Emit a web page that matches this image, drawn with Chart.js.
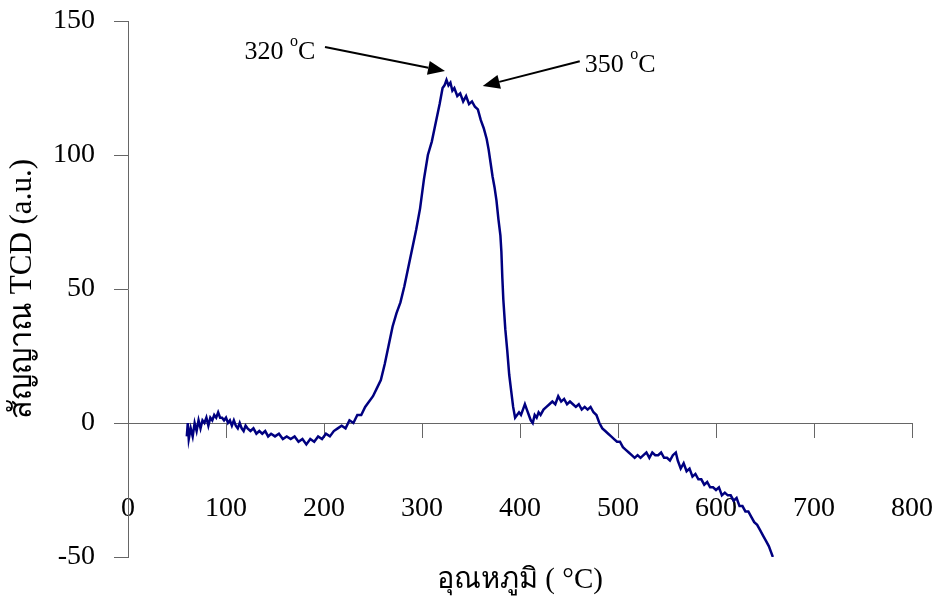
<!DOCTYPE html>
<html>
<head>
<meta charset="utf-8">
<script src="https://cdn.jsdelivr.net/npm/chart.js@4.4.1/dist/chart.umd.min.js"></script>
<style>
  html, body { margin: 0; padding: 0; background: #fff; }
  #wrap { width: 937px; height: 598px; position: relative; }
</style>
</head>
<body>
<div id="wrap"><canvas id="tcd"></canvas></div>
<script>
// TPR signal: temperature (C) and TCD signal (a.u.)
const temps = [
  60, 61, 62, 64, 66, 68, 70, 72, 74, 76, 78, 80, 82, 84, 86, 88, 90, 92, 94, 96,
  98, 100, 102, 104, 106, 108, 110, 112, 114, 116, 118, 120, 122, 125, 128, 131, 134, 137, 140, 143,
  146, 150, 154, 158, 162, 166, 170, 174, 178, 182, 186, 190, 194, 198, 202, 206, 210, 214, 218, 222,
  226, 230, 234, 238, 242, 244, 250, 254, 258, 262, 266, 270, 274, 278, 282, 286, 290, 294, 298, 302,
  306, 310, 314, 318, 321, 323, 325, 327, 329, 331, 333, 336, 339, 342, 345, 348, 351, 354, 357, 360,
  363, 366, 368, 370, 372, 374, 376, 378, 380, 381, 382, 383, 385, 387, 389, 391, 393, 395, 397, 399,
  401, 403, 405, 407, 409, 411, 413, 415, 417, 419, 421, 424, 427, 430, 433, 436, 439, 442, 445, 448,
  451, 454, 457, 460, 463, 466, 469, 472, 475, 478, 481, 484, 487, 490, 493, 496, 499, 502, 505, 508,
  511, 514, 517, 520, 523, 526, 529, 532, 535, 538, 541, 544, 547, 550, 553, 556, 559, 561, 564, 567,
  570, 573, 576, 579, 582, 585, 588, 591, 594, 597, 600, 603, 606, 609, 612, 615, 618, 621, 624, 627,
  630, 633, 636, 639, 642, 645, 648, 651, 654, 656, 658
];
const signal = [
  -5, 0, -6, -2, -5, 0, -3, 1, -2, 1, 0, 2, -1, 2, 1, 3, 2, 4, 2, 2,
  1, 2, 0, 1, -1, 1, -1, -2, 0, -2, -3, -1, -2, -3, -2, -4, -3, -4, -3, -5,
  -4, -5, -4, -6, -5, -6, -5, -7, -6, -8, -6, -7, -5, -6, -4, -5, -3, -2, -1, -2,
  1, 0, 3, 3, 6, 7, 10, 13, 16, 22, 29, 36, 41, 45, 51, 58, 65, 72, 80, 91,
  100, 105, 112, 119, 125, 126, 128, 126, 127, 124, 125, 122, 123, 120, 122, 119, 120, 118, 117, 113,
  110, 106, 102, 97, 92, 88, 83, 76, 70, 64, 54, 46, 35, 27, 18, 12, 6, 2, 3, 4,
  3, 5, 7, 5, 3, 1, 0, 3, 2, 4, 3, 5, 6, 7, 8, 7, 10, 8, 9, 7,
  8, 7, 6, 7, 5, 6, 5, 6, 4, 3, 0, -2, -3, -4, -5, -6, -7, -7, -9, -10,
  -11, -12, -13, -12, -13, -12, -11, -13, -11, -12, -12, -11, -13, -13, -14, -12, -11, -14, -17, -15,
  -18, -17, -20, -19, -21, -21, -23, -22, -24, -24, -25, -24, -27, -26, -27, -27, -29, -28, -31, -31,
  -33, -33, -35, -37, -38, -40, -42, -44, -46, -48, -50
];
const xTickStep = 100;
const yTickStep = 50;

const serif = "'Liberation Serif', 'Times New Roman', serif";
const axisGray = '#666666';

// arrows with their labels, in data units
const notes = [
  { label: '320', at: [119, 138.5], from: [201, 140.3], to: [323.5, 131.3] },
  { label: '350', at: [466, 133.6], from: [461, 135], to: [362, 125.7] }
];

function degreeText(ctx, x, y, lead) {
  ctx.font = '26px ' + serif;
  ctx.textBaseline = 'middle';
  ctx.textAlign = 'left';
  ctx.fillText(lead + ' ', x, y);
  let w = ctx.measureText(lead + ' ').width;
  ctx.font = '16px ' + serif;
  ctx.fillText('o', x + w, y - 10);
  w += ctx.measureText('o').width;
  ctx.font = '26px ' + serif;
  ctx.fillText('C', x + w, y);
}

const arrowNotes = {
  id: 'arrowNotes',
  afterDatasetsDraw(chart) {
    const ctx = chart.ctx;
    const sx = chart.scales.x, sy = chart.scales.y;
    ctx.save();
    ctx.fillStyle = '#000';
    ctx.strokeStyle = '#000';
    notes.forEach(n => {
      const x1 = sx.getPixelForValue(n.from[0]), y1 = sy.getPixelForValue(n.from[1]);
      const x2 = sx.getPixelForValue(n.to[0]), y2 = sy.getPixelForValue(n.to[1]);
      const a = Math.atan2(y2 - y1, x2 - x1);
      const len = 17, half = 7;
      const bx = x2 - len * Math.cos(a), by = y2 - len * Math.sin(a);
      ctx.lineWidth = 2;
      ctx.beginPath();
      ctx.moveTo(x1, y1);
      ctx.lineTo(bx, by);
      ctx.stroke();
      ctx.beginPath();
      ctx.moveTo(x2, y2);
      ctx.lineTo(bx + half * Math.sin(a), by - half * Math.cos(a));
      ctx.lineTo(bx - half * Math.sin(a), by + half * Math.cos(a));
      ctx.closePath();
      ctx.fill();
      degreeText(ctx, sx.getPixelForValue(n.at[0]), sy.getPixelForValue(n.at[1]), n.label);
    });
    ctx.restore();
  }
};

const points = temps.map((t, i) => ({ x: t, y: signal[i] }));

new Chart(document.getElementById('tcd'), {
  type: 'scatter',
  data: {
    datasets: [{
      data: points,
      xAxisID: 'x',
      yAxisID: 'y',
      showLine: true,
      borderColor: '#000080',
      backgroundColor: '#000080',
      borderWidth: 2.5,
      pointRadius: 0,
      tension: 0
    }]
  },
  options: {
    responsive: true,
    maintainAspectRatio: false,
    animation: false,
    events: [],
    layout: { padding: { top: 21, right: 25, left: 0, bottom: 0 } },
    plugins: { legend: { display: false }, tooltip: { enabled: false } },
    scales: {
      x: {
        type: 'linear',
        position: { y: 0 },
        min: 0, max: 800,
        ticks: { stepSize: xTickStep, padding: 55, color: '#000', maxRotation: 0, autoSkip: false,
                 font: { family: serif, size: 28 } },
        grid: { drawOnChartArea: false, tickLength: 14, color: axisGray },
        border: { color: axisGray },
        afterFit(s) { s.height = 0; s.paddingLeft = 0; s.paddingRight = 0; }
      },
      xb: {
        type: 'linear',
        position: 'bottom',
        min: 0, max: 800,
        ticks: { display: false },
        grid: { display: false },
        border: { display: false },
        title: { display: true, text: 'อุณหภูมิ ( °C)', color: '#000',
                 font: { family: serif, size: 29 }, padding: { top: 6, bottom: 0 } },
        afterFit(s) { s.height = 41; }
      },
      y: {
        type: 'linear',
        position: 'left',
        min: -50, max: 150,
        ticks: { stepSize: yTickStep, padding: 19, color: '#000', font: { family: serif, size: 28 } },
        grid: { drawOnChartArea: false, tickLength: 14, color: axisGray },
        border: { color: axisGray },
        title: { display: true, text: 'สัญญาณ TCD (a.u.)', color: '#000',
                 font: { family: serif, size: 31 }, padding: { top: 4, bottom: 0 } },
        afterFit(s) { s.width = 128; s.paddingTop = 0; s.paddingBottom = 0; }
      }
    }
  },
  plugins: [arrowNotes]
});
</script>
</body>
</html>
